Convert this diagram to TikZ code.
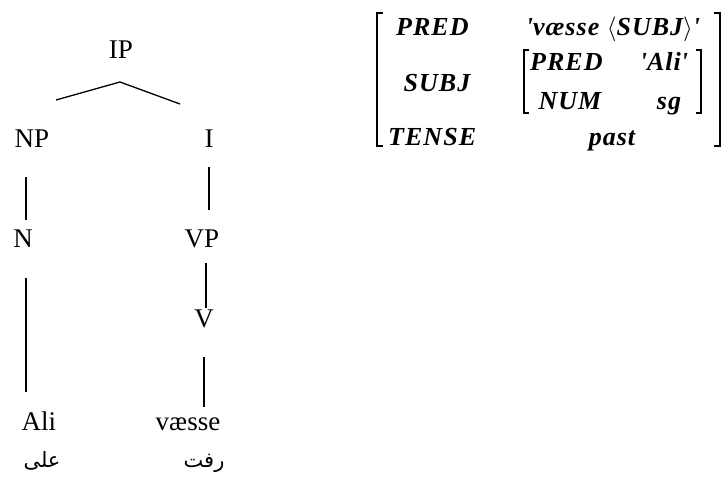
\documentclass[tikz,border=0pt]{standalone}
\usepackage{fontspec}
\setmainfont{Liberation Serif}
\newfontfamily\fsfont[LetterSpace=4]{Liberation Serif}
\newfontfamily\arabicfont[Script=Arabic]{DejaVu Sans}
\TeXXeTstate=1
\begin{document}
\begin{tikzpicture}[x=1pt,y=-1pt,
  cat/.style={font=\fontsize{27}{32}\selectfont, inner sep=0pt, anchor=base},
  arab/.style={font=\arabicfont\fontsize{21}{26}\selectfont, inner sep=0pt, anchor=base},
  branch/.style={line width=1.3pt},
  fs/.style={font=\fsfont\bfseries\itshape\fontsize{26}{30}\selectfont, inner sep=0pt, anchor=base},
  fsw/.style={fs, anchor=base west},
  brk/.style={line width=2.6pt},
  ibrk/.style={line width=2.2pt}]
\useasboundingbox (0,0) rectangle (724,477);
% tree
\node[cat] (IP) at (121,58) {IP};
\node[cat] (NP) at (32,147) {NP};
\node[cat] (I) at (209,147) {I};
\node[cat] (N) at (23,247) {N};
\node[cat] (VP) at (202,247) {VP};
\node[cat] (V) at (204,327) {V};
\node[cat] (Ali) at (39,430) {Ali};
\node[cat] (vaesse) at (188,430) {væsse};
\node[arab] (aliar) at (42,467) {\beginR على\endR};
\node[arab] (raft) at (204,467) {\beginR رفت\endR};
\coordinate (ipjoin) at (120,82);
\coordinate (npend) at (56,100);
\coordinate (iend) at (180,104);
\draw[branch] (npend) -- (ipjoin) -- (iend);
\coordinate (npdown) at (26,177); \coordinate (nup) at (26,220);
\draw[branch] (npdown) -- (nup);
\coordinate (idown) at (209,167); \coordinate (vpup) at (209,210);
\draw[branch] (idown) -- (vpup);
\coordinate (ndown) at (26,278); \coordinate (aliup) at (26,392);
\draw[branch] (ndown) -- (aliup);
\coordinate (vpdown) at (206,263); \coordinate (vup) at (206,308);
\draw[branch] (vpdown) -- (vup);
\coordinate (vdown) at (204,357); \coordinate (vaesseup) at (204,407);
\draw[branch] (vdown) -- (vaesseup);
% f-structure
\draw[brk] (383,13) -- (377,13) -- (377,146) -- (383,146);
\draw[brk] (714,13) -- (720,13) -- (720,146) -- (714,146);
\draw[ibrk] (529,50) -- (524,50) -- (524,113) -- (529,113);
\draw[ibrk] (696,50) -- (701,50) -- (701,113) -- (696,113);
\node[fsw] (pred1) at (396,35) {PRED};
\node[fs] (predval) at (613,35) {\textquotesingle væsse $\langle$SUBJ$\rangle$\textquotesingle};
\node[fs] (subj) at (437,91) {SUBJ};
\node[fsw] (pred2) at (530,70) {PRED};
\node[fs] (alival) at (664,70) {\textquotesingle Ali\textquotesingle};
\node[fs] (num) at (570,109) {NUM};
\node[fs] (sg) at (669,109) {sg};
\node[fsw] (tense) at (388,145) {TENSE};
\node[fs] (past) at (612,145) {past};
\end{tikzpicture}
\end{document}
